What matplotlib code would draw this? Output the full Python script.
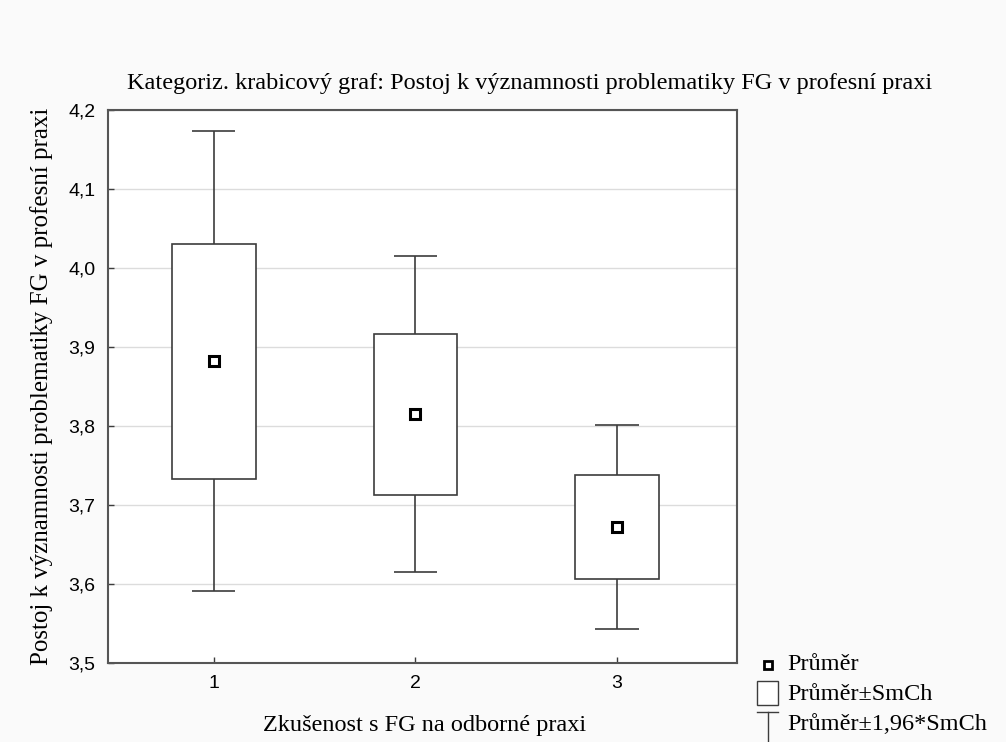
import numpy as np
import matplotlib
matplotlib.use("Agg")
import matplotlib.pyplot as plt
from matplotlib.patches import Rectangle
from matplotlib.lines import Line2D

# data
skupiny = [1, 2, 3]
prumer = [3.882, 3.815, 3.672]
smch = [0.1485, 0.102, 0.066]

title = "Kategoriz. krabicový graf: Postoj k významnosti problematiky FG v profesní praxi"
ylabel = "Postoj k významnosti problematiky FG v profesní praxi"
xlabel = "Zkušenost s FG na odborné praxi"
yticks = [3.5, 3.6, 3.7, 3.8, 3.9, 4.0, 4.1, 4.2]

serif = "Liberation Serif"
sans = "Liberation Sans"
line_c = "#3c3c3c"

fig = plt.figure(figsize=(10.06, 7.42), dpi=100, facecolor="#fafafa")
ax = fig.add_axes([108/1006, 1 - 663/742, (737-108)/1006, (663-110)/742])
ax.set_facecolor("white")

x = np.array(skupiny)
m = np.array(prumer)
s = np.array(smch)

# whiskers (mean +- 1.96*SE)
ax.vlines(x, m + s, m + 1.96*s, color=line_c, lw=1.2, zorder=2)
ax.vlines(x, m - 1.96*s, m - s, color=line_c, lw=1.2, zorder=2)
ax.hlines(m + 1.96*s, x - 0.107, x + 0.107, color=line_c, lw=1.2, zorder=2)
ax.hlines(m - 1.96*s, x - 0.107, x + 0.107, color=line_c, lw=1.2, zorder=2)

# boxes (mean +- SE)
ax.bar(x, 2*s, bottom=m - s, width=0.416, facecolor="white",
       edgecolor=line_c, linewidth=1.2, zorder=3)

# means
ax.plot(x, m, ls="none", marker="s", ms=7, mfc="white", mec="black",
        mew=2.2, zorder=4)

ax.set_xlim(0.475, 3.595)
ax.set_ylim(3.5, 4.2)
ax.set_xticks(skupiny)
ax.set_yticks(yticks)
ax.set_yticklabels([f"{v:.1f}".replace(".", ",") for v in yticks])
ax.yaxis.grid(True, color="#dcdcdc", lw=1)
ax.set_axisbelow(True)
ax.tick_params(direction="in", length=4, width=1, color=line_c,
               labelsize=14, pad=9)
for lab in ax.get_xticklabels() + ax.get_yticklabels():
    lab.set_fontfamily(sans)
for sp in ax.spines.values():
    sp.set_color("#555555")
    sp.set_linewidth(1.5)

fig.text(530/1006, 1 - 83/742, title, ha="center", va="center",
         fontsize=17.5, family=serif)
fig.text(42/1006, 1 - 386/742, ylabel, ha="center", va="center",
         rotation=90, fontsize=18, family=serif)
fig.text(425/1006, 1 - 726/742, xlabel, ha="center", va="center",
         fontsize=17.5, family=serif)

# legend drawn by hand, like the original
W, H = 1006, 742
fig.add_artist(Line2D([768/W], [1 - 665/H], marker="s", ms=6, mfc="white",
                      mec="black", mew=2, ls="none"))
fig.text(787/W, 1 - 664/H, "Průměr", va="center", fontsize=17.5, family=serif)
fig.add_artist(Rectangle((757/W, 1 - 705/H), 21/W, 24/H, facecolor="white",
                         edgecolor=line_c, lw=1, transform=fig.transFigure))
fig.text(787/W, 1 - 694/H, "Průměr±SmCh", va="center", fontsize=17.5, family=serif)
fig.add_artist(Line2D([757/W, 778/W], [1 - 712/H, 1 - 712/H], color=line_c, lw=1))
fig.add_artist(Line2D([767.5/W, 767.5/W], [1 - 712/H, 1 - 742/H], color=line_c, lw=1))
fig.text(787/W, 1 - 725/H, "Průměr±1,96*SmCh", va="center", fontsize=17.5, family=serif)

fig.savefig("out.png", dpi=100, facecolor=fig.get_facecolor())
